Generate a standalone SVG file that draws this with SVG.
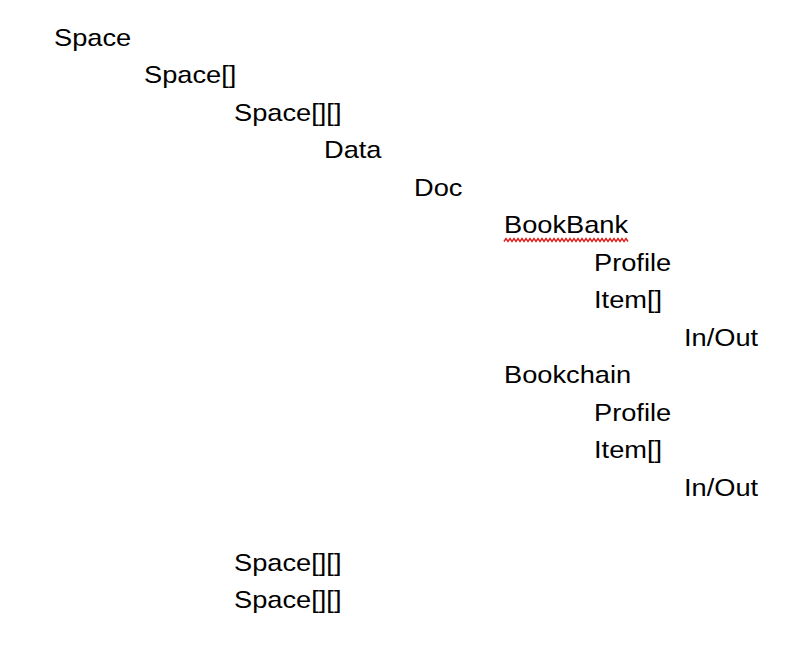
<svg xmlns="http://www.w3.org/2000/svg" width="810" height="666" viewBox="0 0 810 666">
<style>
text{font-family:"Liberation Sans",Arial,sans-serif;font-size:24px;fill:#000}
.sq{fill:none;stroke:#e0201c;stroke-width:1.5}
</style>
<rect width="810" height="666" fill="#fff"/>
<g id="n1"><text transform="translate(54,45.5) scale(1.135,1)">Space</text></g>
<g id="n2"><text transform="translate(144,83) scale(1.135,1)">Space[]</text></g>
<g id="n3"><text transform="translate(234,120.5) scale(1.135,1)">Space[][]</text></g>
<g id="n4"><text transform="translate(324,158) scale(1.135,1)">Data</text></g>
<g id="n5"><text transform="translate(414,195.5) scale(1.135,1)">Doc</text></g>
<g id="n6"><text transform="translate(504,233) scale(1.135,1)">BookBank</text>
<path class="sq" d="M504,241.5 l2,-3 l2,3 l2,-3 l2,3 l2,-3 l2,3 l2,-3 l2,3 l2,-3 l2,3 l2,-3 l2,3 l2,-3 l2,3 l2,-3 l2,3 l2,-3 l2,3 l2,-3 l2,3 l2,-3 l2,3 l2,-3 l2,3 l2,-3 l2,3 l2,-3 l2,3 l2,-3 l2,3 l2,-3 l2,3 l2,-3 l2,3 l2,-3 l2,3 l2,-3 l2,3 l2,-3 l2,3 l2,-3 l2,3 l2,-3 l2,3 l2,-3 l2,3 l2,-3 l2,3 l2,-3 l2,3 l2,-3 l2,3 l2,-3 l2,3 l2,-3 l2,3 l2,-3 l2,3 l2,-3 l2,3 l2,-3 l2,3"/></g>
<g id="n7"><text transform="translate(594,270.5) scale(1.135,1)">Profile</text></g>
<g id="n8"><text transform="translate(594,308) scale(1.135,1)">Item[]</text></g>
<g id="n9"><text transform="translate(684,345.5) scale(1.135,1)">In/Out</text></g>
<g id="n10"><text transform="translate(504,383) scale(1.135,1)">Bookchain</text></g>
<g id="n11"><text transform="translate(594,420.5) scale(1.135,1)">Profile</text></g>
<g id="n12"><text transform="translate(594,458) scale(1.135,1)">Item[]</text></g>
<g id="n13"><text transform="translate(684,495.5) scale(1.135,1)">In/Out</text></g>
<g id="n14"><text transform="translate(234,570.5) scale(1.135,1)">Space[][]</text></g>
<g id="n15"><text transform="translate(234,608) scale(1.135,1)">Space[][]</text></g>
<g id="connectors"></g>
</svg>
